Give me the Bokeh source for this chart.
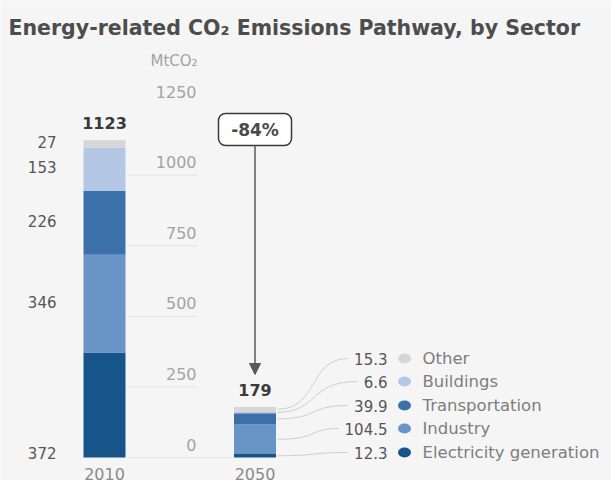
from bokeh.plotting import figure
from bokeh.models import Range1d, Label, BoxAnnotation, Arrow, NormalHead
from bokeh.core.properties import value
from bokeh.embed import file_html
from bokeh.resources import INLINE

# ---- data -------------------------------------------------------------
years = ["2010", "2050"]
sectors = ["Electricity generation", "Industry", "Transportation", "Buildings", "Other"]
values_2010 = [372, 346, 226, 153, 27]
values_2050 = [12.3, 104.5, 39.9, 6.6, 15.3]
totals = [1123, 179]
colors = ["#17548a", "#6894c6", "#3c70a8", "#b4c7e4", "#d6d6d6"]
y_ticks = [0, 250, 500, 750, 1000, 1250]

# ---- layout helpers ---------------------------------------------------
W, H = 611, 480
BASE_PX = 457.0            # pixel row of the zero line
K = 317.0 / 1123.0         # pixels per MtCO2


def dy(px):
    """pixel distance -> data distance"""
    return px / K


def py(px):
    """pixel row -> data value"""
    return (BASE_PX - px) / K


FONT = value("DejaVu Sans")
BG = "#f5f5f5"

p = figure(width=W, height=H, output_backend="svg", toolbar_location=None,
           x_range=Range1d(0, W), y_range=Range1d(py(H), py(0)),
           min_border=0, min_border_left=0, min_border_right=0,
           min_border_top=0, min_border_bottom=0)
p.axis.visible = False
p.grid.visible = False
p.outline_line_color = None
p.background_fill_color = BG
p.border_fill_color = BG

bar_x = [104, 254.5]
bar_w = 42

# ---- short grid lines and tick labels ---------------------------------
for t in y_ticks:
    x1 = 233 if t == 0 else 197
    if t != 1250:
        p.segment(x0=[127], y0=[t], x1=[x1], y1=[t], line_color="#e2e2e2", line_width=1)
    p.text(x=[196], y=[t + dy(13)], text=[str(t)], text_align="right",
           text_baseline="alphabetic", text_font=FONT, text_font_size="16px",
           text_color="#a3a3a3")

p.text(x=[150], y=[py(60)], text=["MtCO₂"], text_align="left", text_baseline="middle",
       text_font=FONT, text_font_size="15px", text_color="#a3a3a3")

# ---- stacked bars -----------------------------------------------------
stacks = [values_2010, values_2050]
for xi, vals in zip(bar_x, stacks):
    bottom = 0.0
    for v, c in zip(vals, colors):
        p.vbar(x=[xi], bottom=[bottom], top=[bottom + v], width=bar_w,
               fill_color=c, line_color=None)
        bottom += v

# totals above bars
for xi, vals, tot in zip(bar_x, stacks, totals):
    p.text(x=[xi], y=[sum(vals) + dy(17)], text=[str(tot)], text_align="center",
           text_baseline="alphabetic", text_font=FONT, text_font_style="bold",
           text_font_size="16px", text_color="#3a3a3a")

# year labels
for xi, yr in zip(bar_x, years):
    p.text(x=[xi], y=[py(467)], text=[yr], text_align="center", text_baseline="top",
           text_font=FONT, text_font_size="16px", text_color="#8a8a8a")

# ---- 2010 segment values on the left ----------------------------------
cum = 0.0
for i, v in enumerate(values_2010):
    mid = cum + v / 2.0
    ly = dy(5) if i == 0 else mid + dy(2)
    p.text(x=[56], y=[ly], text=[str(v)], text_align="right", text_baseline="middle",
           text_font=FONT, text_font_size="15px", text_color="#555555")
    cum += v

# ---- 2050 legend with connector curves --------------------------------
row_px = [452, 428, 405, 381, 358]
VAL_RIGHT = 387
cum = 0.0
for v, c, name, rp in zip(values_2050, colors, sectors, row_px):
    mid = cum + v / 2.0
    cum += v
    y1 = py(rp)
    label = f"{v:g}"
    x_end = VAL_RIGHT - 9.4 * len(label) - 2
    p.bezier(x0=[277], y0=[mid], x1=[x_end], y1=[y1],
             cx0=[318], cy0=[mid], cx1=[308], cy1=[y1],
             line_color="#cfcfcf", line_width=1)
    p.text(x=[VAL_RIGHT], y=[y1], text=[label], text_align="right", text_baseline="middle",
           text_font=FONT, text_font_size="15px", text_color="#555555")
    p.ellipse(x=[404], y=[y1], width=13, height=dy(10), fill_color=c, line_color=None)
    p.text(x=[422], y=[y1], text=[name], text_align="left", text_baseline="middle",
           text_font=FONT, text_font_size="16.5px", text_color="#7d7d7d")

# ---- change box and arrow ---------------------------------------------
change = round((1 - totals[1] / totals[0]) * 100)
box = BoxAnnotation(left=218, right=291, top=py(113), bottom=py(145),
                    fill_color="white", fill_alpha=1.0, line_color="#3a3a3a",
                    line_alpha=1.0, line_width=1.5, border_radius=7, level="underlay")
p.add_layout(box)
p.text(x=[254.5], y=[py(129)], text=[f"-{change}%"], text_align="center",
       text_baseline="middle", text_font=FONT, text_font_style="bold",
       text_font_size="17px", text_color="#4a4a4a")
p.add_layout(Arrow(x_start=254.5, y_start=py(145), x_end=254.5, y_end=py(374),
                   line_color="#5a5a5a", line_width=1.5,
                   end=NormalHead(size=11, fill_color="#5a5a5a", line_color="#5a5a5a")))

# ---- title ------------------------------------------------------------
p.add_layout(Label(x=8, y=py(27), text="Energy-related CO₂ Emissions Pathway, by Sector",
                   text_align="left", text_baseline="alphabetic", text_font="DejaVu Sans",
                   text_font_style="bold", text_font_size="20.5px", text_color="#4d4d4d"))

open("out.html", "w").write(file_html(p, INLINE))
